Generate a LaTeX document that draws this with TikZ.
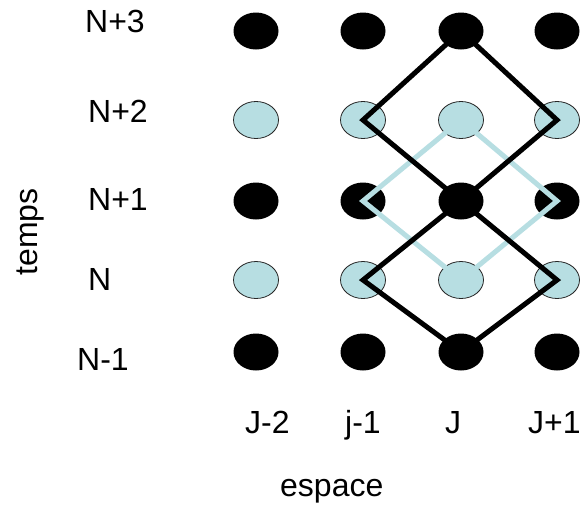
\documentclass[tikz,border=0pt]{standalone}
\usepackage{fontspec}
\setmainfont{Liberation Sans}
\usetikzlibrary{shapes.geometric}
\definecolor{ltblue}{RGB}{183,222,226}
\begin{document}
\begin{tikzpicture}[x=1pt,y=-1pt,
  dkdot/.style={ellipse, fill=black, minimum width=45pt, minimum height=37pt, inner sep=0pt},
  ltdot/.style={ellipse, fill=ltblue, draw=black!85, line width=0.8pt, minimum width=45pt, minimum height=37pt, inner sep=0pt},
  blkline/.style={draw=black, line width=5pt, line join=miter},
  ltline/.style={draw=ltblue, line width=5pt, line join=miter},
  lbl/.style={font=\fontsize{32}{38}\selectfont, inner sep=0pt}
]
\useasboundingbox (0,0) rectangle (581,507);
% rows: r3=N+3, r2=N+2, r1=N+1, r0=N, rm=N-1
\foreach \c/\x in {a/256,b/363,c/461,d/557}{
  \node[dkdot] (\c r3) at (\x,31) {};
  \node[ltdot] (\c r2) at (\x,120) {};
  \node[dkdot] (\c r1) at (\x,201) {};
  \node[ltdot] (\c r0) at (\x,280) {};
  \node[dkdot] (\c rm) at (\x,352) {};
}
% light blue diamond
\draw[ltline] (cr2.center) -- (dr1.center) -- (cr0.center) -- (br1.center) -- cycle;
% black diamonds
\draw[blkline] (cr3.center) -- (dr2.center) -- (cr1.center) -- (br2.center) -- cycle;
\draw[blkline] (cr1.center) -- (dr0.center) -- (crm.center) -- (br0.center) -- cycle;
% row labels
\node[lbl, anchor=base west] (tN3) at (85,32) {N+3};
\node[lbl, anchor=base west] (tN2) at (88,122) {N+2};
\node[lbl, anchor=base west] (tN1) at (88,210) {N+1};
\node[lbl, anchor=base west] (tN0) at (88,290) {N};
\node[lbl, anchor=base west] (tNm) at (77,370) {N-1};
\node[lbl, anchor=base, rotate=90] (temps) at (37,232) {temps};
% column labels
\node[lbl, anchor=base west] (tJm2) at (245,433) {J-2};
\node[lbl, anchor=base west] (tjm1) at (345,433) {j-1};
\node[lbl, anchor=base west] (tJ) at (445,433) {J};
\node[lbl, anchor=base west] (tJp1) at (528,433) {J+1};
\node[lbl, anchor=base west] (esp) at (280,496) {espace};
\end{tikzpicture}
\end{document}
